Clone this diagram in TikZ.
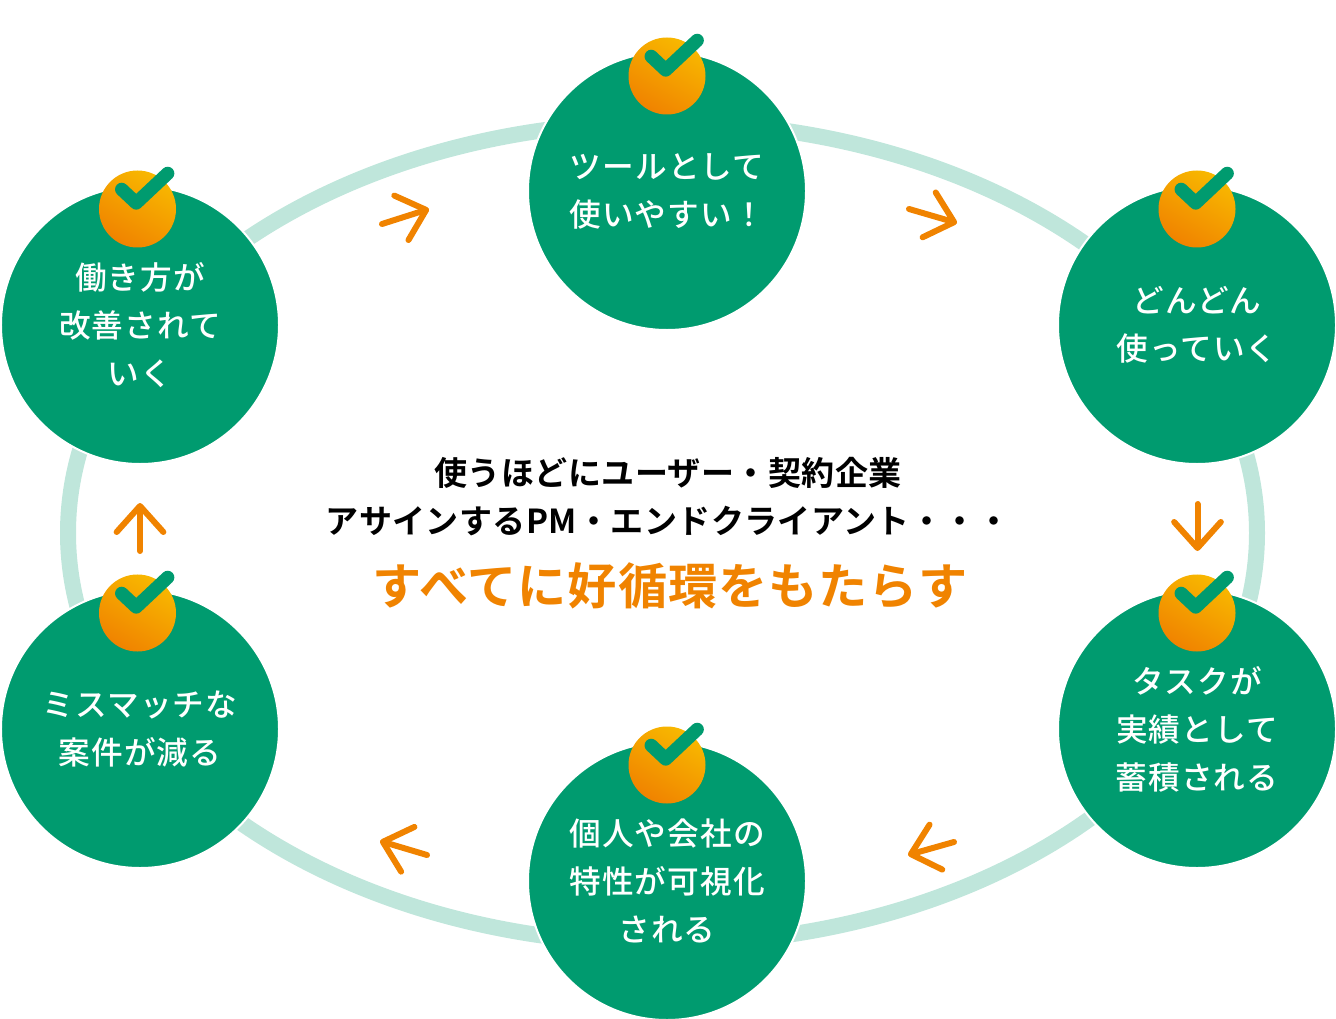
\documentclass[tikz,border=0pt]{standalone}
\usepackage{fontspec}
\usepackage{xcolor}
\usetikzlibrary{arrows.meta}
\setmainfont{Noto Sans CJK JP}
\newfontfamily\jpmid{Noto Sans CJK JP Medium}[LetterSpace=3.5]
\newfontfamily\jpbold{Noto Sans CJK JP Bold}[LetterSpace=1.2]
\newfontfamily\jplead{Noto Sans CJK JP Bold}[LetterSpace=2]
\definecolor{greenx}{HTML}{009B6F}
\definecolor{ringx}{HTML}{BFE6DB}
\definecolor{orangex}{HTML}{F08300}
\definecolor{yellowx}{HTML}{F8B800}
\tikzset{
  ar/.style={-{Straight Barb[length=0.78cm,width=1.4cm,round]},line width=0.18cm,line cap=round,orangex},
  stepnode/.style={circle,draw=white,line width=0.06cm,fill=greenx,minimum size=8.34cm,inner sep=0pt,align=center,text=white,font=\jpmid\fontsize{27}{41}\selectfont},
  badge/.style={circle,minimum size=2.31cm,inner sep=0pt,top color=yellowx,bottom color=orangex,shading angle=-30},
  chk/.style={greenx,line width=0.4cm,line cap=round,line join=round}
}
\begin{document}
\begin{tikzpicture}[x=0.03cm,y=-0.03cm]
\useasboundingbox (0,0) rectangle (1336,1019);
\draw[ringx,line width=0.48cm] (662.5,533) ellipse [x radius=594.5,y radius=411];
% steps round the ring
\node[stepnode] (s1) at (667,191) {ツールとして\\使いやすい！};
\node[stepnode] (s2) at (1197,325) {どんどん\\使っていく};
\node[stepnode] (s3) at (1197,729) {タスクが\\実績として\\蓄積される};
\node[stepnode] (s4) at (667,881) {個人や会社の\\特性が可視化\\される};
\node[stepnode] (s5) at (140,729) {ミスマッチな\\案件が減る};
\node[stepnode] (s6) at (140,325) {働き方が\\改善されて\\いく};
% badges
\foreach \i/\bx/\by in {1/667/76,2/1197/209,3/1197/613,4/667/765,5/137.5/613,6/137.5/209}{
  \node[badge] (b\i) at (\bx,\by) {};
  \draw[chk,shift={(b\i.center)}] (-15.8,-19.6)--(-1.3,-6)--(30.2,-35.6);
}
% arrows between the steps
\foreach \i/\ax/\ay/\bx/\by in {1/909/209/957/223,2/1197.5/504/1197.5/551,3/954/842/908/855,4/427/855/380/841,5/140/551/140/503,6/382/224/429/209}{
  \coordinate (a\i) at (\ax,\ay);
  \coordinate (e\i) at (\bx,\by);
  \draw[ar] (a\i)--(e\i);
}
% centre text
\node[align=center,font=\jpbold\fontsize{28.2}{41}\selectfont] (msg) at (668,497) {使うほどにユーザー・契約企業\\アサインするPM・エンドクライアント・・・};
\node[text=orangex,font=\jplead\fontsize{42}{48}\selectfont] (lead) at (670,586) {すべてに好循環をもたらす};
\end{tikzpicture}
\end{document}
